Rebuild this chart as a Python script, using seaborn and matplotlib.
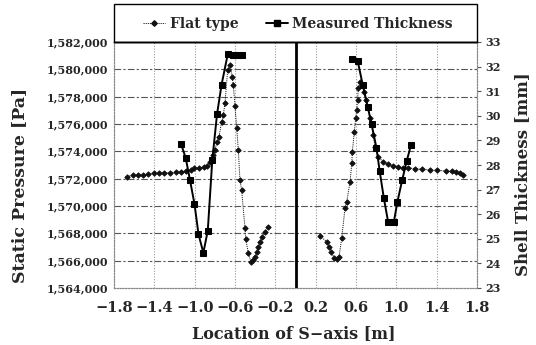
import matplotlib
matplotlib.use("Agg")
import matplotlib.pyplot as plt
import matplotlib.ticker as mticker
from matplotlib.lines import Line2D
from matplotlib.patches import Rectangle
import seaborn as sns
import pandas as pd

# ---- data ----
flat_left_x = [-1.67, -1.61, -1.56, -1.51, -1.46, -1.40, -1.35, -1.30, -1.24, -1.19,
               -1.14, -1.09, -1.04, -1.01, -0.96, -0.91, -0.88, -0.85, -0.815, -0.80,
               -0.776, -0.759, -0.732, -0.716, -0.699, -0.673, -0.650, -0.627, -0.617,
               -0.600, -0.583, -0.567, -0.551, -0.534, -0.501, -0.494, -0.468, -0.441,
               -0.422, -0.402, -0.385, -0.372, -0.352, -0.332, -0.303, -0.273]
flat_left_p = [1572150, 1572250, 1572270, 1572300, 1572340, 1572380, 1572400, 1572420,
               1572450, 1572480, 1572500, 1572560, 1572600, 1572780, 1572800, 1572830,
               1572950, 1573240, 1573730, 1574100, 1574710, 1575070, 1576170, 1576660,
               1577540, 1579950, 1580320, 1579460, 1578860, 1577300, 1575710, 1574100,
               1571900, 1571170, 1568390, 1567590, 1566560, 1565900, 1566050, 1566270,
               1566630, 1567000, 1567370, 1567730, 1568100, 1568460]

flat_right_x = [0.243, 0.310, 0.332, 0.352, 0.385, 0.409, 0.432, 0.458, 0.491, 0.508,
                0.541, 0.558, 0.564, 0.583, 0.597, 0.607, 0.615, 0.623, 0.640, 0.660,
                0.680, 0.699, 0.719, 0.739, 0.756, 0.769, 0.789, 0.818, 0.868, 0.918,
                0.967, 1.017, 1.066, 1.116, 1.186, 1.255, 1.334, 1.404, 1.493, 1.553,
                1.592, 1.632, 1.662]
flat_right_p = [1567805, 1567388, 1567022, 1566656, 1566173, 1566100, 1566290, 1567637,
                1569832, 1570315, 1571778, 1573125, 1573974, 1575438, 1576418, 1577026,
                1577758, 1578614, 1579097, 1578856, 1578343, 1577758, 1577172, 1576441,
                1575928, 1575196, 1574340, 1573608, 1573243, 1573076, 1572930, 1572850,
                1572800, 1572780, 1572740, 1572686, 1572635, 1572600, 1572562, 1572525,
                1572490, 1572415, 1572270]

meas_left_x = [-1.135, -1.088, -1.047, -1.002, -0.962, -0.914, -0.870, -0.825, -0.778,
               -0.733, -0.671, -0.618, -0.572, -0.530]
meas_left_t = [28.86, 28.27, 27.40, 26.42, 25.19, 24.43, 25.33, 28.22, 30.07, 31.27,
               32.52, 32.46, 32.46, 32.46]
meas_right_x = [0.562, 0.618, 0.667, 0.717, 0.755, 0.803, 0.834, 0.876, 0.918, 0.976,
                1.010, 1.057, 1.104, 1.146]
meas_right_t = [32.32, 32.21, 31.25, 30.35, 29.65, 28.69, 27.77, 26.66, 25.70, 25.70,
                26.49, 27.37, 28.18, 28.82]

x_ticks = [-1.8, -1.4, -1.0, -0.6, -0.2, 0.2, 0.6, 1.0, 1.4, 1.8]
p_ticks = list(range(1564000, 1582001, 2000))
t_ticks = list(range(23, 34))

flat_df = pd.DataFrame({
    "x": flat_left_x + flat_right_x,
    "p": flat_left_p + flat_right_p,
    "branch": ["L"] * len(flat_left_x) + ["R"] * len(flat_right_x),
})
meas_df = pd.DataFrame({
    "x": meas_left_x + meas_right_x,
    "t": meas_left_t + meas_right_t,
    "branch": ["L"] * len(meas_left_x) + ["R"] * len(meas_right_x),
})

# ---- figure ----
sns.set_theme(style="white")
plt.rcParams["font.family"] = ["DejaVu Serif"]
plt.rcParams["font.weight"] = "bold"
plt.rcParams["axes.unicode_minus"] = True

W, H = 536, 345
fig = plt.figure(figsize=(W / 100, H / 100), dpi=100)
L, R, T, B = 114, 477, 42, 288
ax = fig.add_axes([L / W, 1 - B / H, (R - L) / W, (B - T) / H])
ax2 = ax.twinx()

sns.lineplot(data=flat_df, x="x", y="p", units="branch", estimator=None, sort=False,
             ax=ax, color="#222222", lw=0.7, linestyle=(0, (1.2, 1.0)),
             marker="D", markersize=2.8, markeredgecolor="#111111",
             markerfacecolor="#111111", markeredgewidth=0.6, zorder=3)
sns.lineplot(data=meas_df, x="x", y="t", units="branch", estimator=None, sort=False,
             ax=ax2, color="black", lw=1.4, marker="s", markersize=5,
             markeredgecolor="black", markerfacecolor="black", zorder=4)

ax.axvline(0, color="black", lw=2.0, zorder=5)

ax.set_xlim(-1.8, 1.8)
ax.set_ylim(1564000, 1582000)
ax2.set_ylim(23, 33)
ax.set_xticks(x_ticks)
ax.xaxis.set_major_formatter(mticker.FuncFormatter(lambda v, p: f"{v:.1f}".replace("-", "\u2212")))
ax.set_yticks(p_ticks)
ax.yaxis.set_major_formatter(mticker.FuncFormatter(lambda v, p: f"{v:,.0f}"))
ax2.set_yticks(t_ticks)

ax.grid(False)
ax2.grid(False)
for yv in p_ticks[1:-1]:
    ax.axhline(yv, color="#555555", lw=0.8, linestyle=(0, (6, 2, 2, 2)), zorder=1)
for xv in x_ticks[1:-1]:
    ax.axvline(xv, color="#999999", lw=0.8, linestyle=(0, (1, 1.5)), zorder=1)

for a in (ax, ax2):
    for s in ("left", "bottom", "right"):
        a.spines[s].set_color("#888888")
        a.spines[s].set_linewidth(0.8)
        a.spines[s].set_linestyle((0, (1, 1.5)))
    a.spines["top"].set_color("black")
    a.spines["top"].set_linewidth(1.0)

ax.tick_params(axis="x", length=0, pad=9, labelsize=10.5)
ax.tick_params(axis="y", length=0, pad=4, labelsize=8)
ax2.tick_params(axis="y", length=3, width=0.8, color="#555555", pad=3, labelsize=8)
for lab in ax.get_xticklabels() + ax.get_yticklabels() + ax2.get_yticklabels():
    lab.set_fontweight("bold")

ax.set_xlabel("Location of S\u2212axis [m]", fontsize=11.5, fontweight="bold")
ax.set_ylabel("Static Pressure [Pa]", fontsize=12.5, fontweight="bold")
ax2.set_ylabel("Shell Thickness [mm]", fontsize=12, fontweight="bold")
ax.xaxis.set_label_coords(0.495, -0.152)
ax.yaxis.set_label_coords(-0.237, 0.415)
ax2.yaxis.set_label_coords(1.102, 0.463)

# legend box above the plot
fig.patches.append(Rectangle((L / W, 1 - T / H), (R - L) / W, (T - 4) / H,
                             transform=fig.transFigure, fill=False, edgecolor="black",
                             linewidth=1.0))
handles = [
    Line2D([], [], color="#222222", lw=0.7, linestyle=(0, (1.2, 1.0)), marker="D",
           markersize=2.8, markerfacecolor="#111111", markeredgecolor="#111111"),
    Line2D([], [], color="black", lw=1.4, marker="s", markersize=5,
           markerfacecolor="black", markeredgecolor="black"),
]
fig.legend(handles, ["Flat type", "Measured Thickness"], loc="center",
           bbox_to_anchor=(0.556, 1 - 24 / H), ncol=2, frameon=False,
           prop={"family": "DejaVu Serif", "weight": "bold", "size": 10},
           handlelength=1.6, handletextpad=0.3, columnspacing=2.0)

fig.savefig("out.png", dpi=100)
